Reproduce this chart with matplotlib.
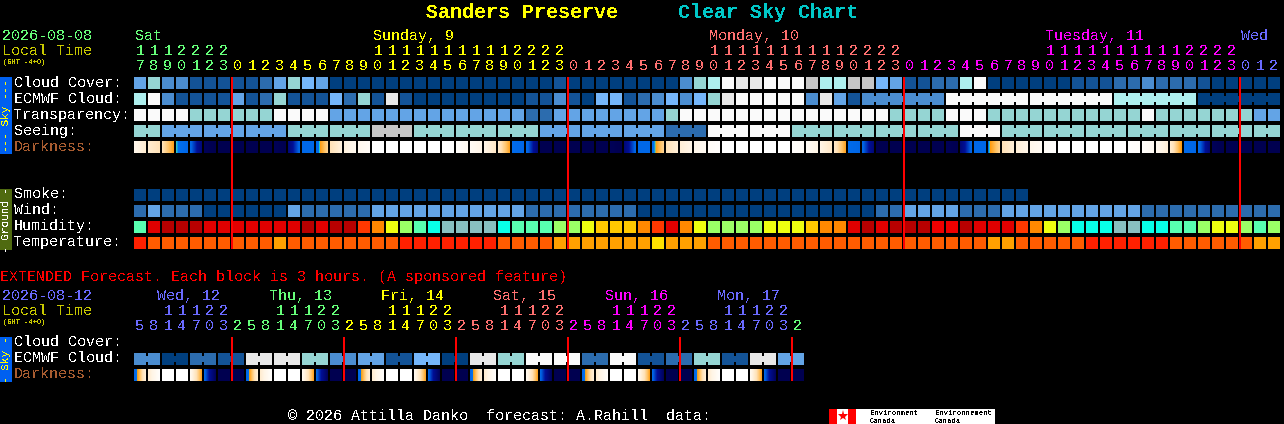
# coding: UTF-8
"""
Clear sky chart for Sanders Preserve, drawn on a pixel sized axes.
"""
import matplotlib
matplotlib.use('Agg')
import matplotlib.pyplot as plt
from matplotlib.colors import LinearSegmentedColormap
import numpy as np

CLOUD_COLORS = ['#003f7f', '#135397', '#2c6cae', '#4b8dd0', '#63a4e6', '#75b6fa',
                '#95d5d3', '#aeefee', '#fafafa', '#e8e8e8', '#c6c6c6']

cloud_cover = [4, 6, 3, 3, 1, 1, 1, 1, 1, 2, 4, 6, 5, 4, 0, 0, 0, 0, 0, 0, 0,
               0, 0, 0, 0, 0, 0, 0, 0, 0, 1, 0, 0, 0, 0, 0, 0, 0, 0, 3, 6,
               7, 8, 9, 9, 8, 8, 8, 10, 7, 7, 10,
               10, 5, 4, 1, 1, 2, 2, 7, 8, 0, 0, 0, 0, 0, 0, 1, 1, 1, 2, 2,
               3, 2, 2, 2, 1, 0, 0, 0, 0, 0]
ecmwf_cloud = [7, 8, 3, 1, 1, 1, 1, 4, 1, 2, 6, 1, 1, 1, 5, 2, 6, 1, 9, 1, 0,
               0, 0, 0, 0, 0, 0, 0, 1, 1, 3, 1, 0, 5, 5, 1, 2, 3, 5, 3, 5,
               6, 9, 8, 8, 8, 8, 8, 3, 9, 4, 1,
               3, 3, 3, 3, 3, 3, 8, 8, 8, 8, 8, 8, 8, 8, 8, 8, 8, 8, 7, 7,
               7, 7, 7, 7, 0, 0, 0, 0, 0, 0]
ecmwf_groups = [52, 58, 64, 70, 76]
transparency = [8, 8, 8, 8, 6, 6, 6, 6, 6, 6, 8, 8, 8, 8, 4, 4, 4, 4, 4, 4, 4,
                4, 4, 4, 4, 4, 4, 4, 2, 2, 4, 4, 4, 4, 4, 4, 4, 4, 6, 8, 8,
                8, 8, 8, 8, 8, 8, 8, 8, 8, 8, 8,
                8, 8, 6, 6, 6, 6, 8, 8, 8, 6, 6, 6, 6, 6, 6, 6, 6, 6, 6, 6,
                8, 6, 6, 6, 6, 6, 6, 6, 4, 4]
seeing = [6, 6, 4, 4, 4, 4, 4, 4, 4, 4, 4, 6, 6, 6, 6, 6, 6, 10, 10, 10, 6,
          6, 6, 6, 6, 6, 6, 6, 6, 4, 4, 4, 4, 4, 4, 4, 4, 4, 2, 2, 2,
          8, 8, 8, 8, 8, 8, 6, 6, 6, 6, 6,
          6, 6, 6, 6, 6, 6, 6, 8, 8, 8, 6, 6, 6, 6, 6, 6, 6, 6, 6, 6,
          6, 6, 6, 6, 6, 6, 6, 6, 6, 6]
seeing_groups = [0, 2, 5, 8, 11, 14, 17, 20, 23, 26, 29, 32, 35, 38, 41, 44, 47,
                 50, 53, 56, 59, 62, 65, 68, 71, 74, 77, 80]
smoke = [0] * 64
wind = [2, 4, 2, 2, 2, 0, 0, 0, 0, 0, 0, 4, 2, 2, 2, 2, 2, 4, 4, 4, 4,
        4, 4, 4, 4, 4, 4, 4, 2, 2, 2, 2, 2, 2, 2, 2, 0, 0, 0, 0, 0,
        0, 0, 0, 0, 0, 0, 0, 0, 0, 0, 0,
        0, 2, 2, 4, 4, 4, 4, 2, 2, 2, 4, 4, 4, 4, 4, 4, 4, 4, 4, 4,
        2, 2, 2, 2, 2, 2, 2, 2, 2, 2]

HUMIDITY_COLORS = {'d': '#b80000', 'r': '#e00000', 'R': '#f00000', 'o': '#ff3800',
                   'O': '#ff8800', 'a': '#ffc800', 'y': '#eeff10', 'l': '#9bff66',
                   'm': '#58ffb0', 'c': '#08ffe8', 'g': '#88bfc0'}
humidity = list('mrdddrrrrrrrdrddoOylmc' 'ggggcmmmllyaaaOorOyllllyyyaOOr'
                'drdddRRdrrroOylcccggccmmlyylml')

TEMP_COLORS = {'r': '#ff2000', 'o': '#ff5c00', 'a': '#ffa000', 'y': '#ffe000'}
temperature = list('r' + 'ooooooooo' + 'a' + 'oooooooo' + 'rrr' + 'rrrr' + 'oooo' +
                   'aaaaaaa' + 'y' + 'aaa' + 'ooooooooooo' + 'ooooooooo' + 'aa' +
                   'ooooo' + 'rrrrrr' + 'oooooo' + 'aa')

# darkness at the left and right edge of each hour block, 0 is daylight, 1 is full dark
dark_left = [.12, .22, .30, .505, .60, .97, 1, 1, 1, 1, .97, .85, .58, .56, .30, .18, .10,
             0, 0, 0, 0, 0, 0, .02, .06, .14, .25, .56, .58, 1, 1, 1, 1, 1, .97, .85, .58,
             .55, .30, .20, .12, .05, 0, 0, 0, 0, 0, .02, .06, .15, .25, .56, .60, 1, 1,
             1, 1, 1, .97, .85, .58, .52, .30, .20, .12, .05, 0, 0, 0, 0, 0, .01, .03,
             .10, .22, .57, .58, .97, 1, 1, 1, 1]
dark_right = [.22, .30, .48, .60, .85, 1, 1, 1, 1, 1, 1, .60, .58, .35, .18, .10, .05,
              0, 0, 0, 0, 0, 0, .08, .14, .25, .47, .60, .85, 1, 1, 1, 1, 1, 1, .60, .58,
              .35, .20, .14, .08, .02, 0, 0, 0, 0, 0, .05, .15, .25, .47, .60, .85, 1, 1,
              1, 1, 1, 1, .60, .58, .35, .20, .14, .07, .02, 0, 0, 0, 0, 0, .03, .08,
              .20, .49, .60, .85, 1, 1, 1, 1, 1]

hours = [17, 18, 19, 20, 21, 22, 23] + list(range(24)) * 3 + [0, 1, 2]
hour_days = [0] * 7 + [1] * 24 + [2] * 24 + [3] * 24 + [4] * 3
day_colors = ['#66ff7a', '#ffff00', '#ff7070', '#ff00ff', '#6a6aff']
day_labels = [('Sat', 0), ('Sunday, 9', 17), ('Monday, 10', 41), ('Tuesday, 11', 65), ('Wed', 79)]

# extended forecast, one block is 3 hours
ext_ecmwf = [3, 3, 0, 0, 2, 2, 1, 1, 9, 9, 9, 9, 6, 6, 3, 3, 4, 4, 1, 1, 5, 5, 0, 0,
             9, 9, 6, 6, 8, 8, 8, 8, 2, 2, 8, 8, 1, 1, 2, 2, 6, 6, 1, 1, 9, 9, 4, 4]
ext_groups = list(range(0, 48, 2))
ext_dark_left = [.60, .22, 0, 0, .10, .60, 1, 1] * 6
ext_dark_right = [.20, .02, 0, 0, .47, .95, 1, 1] * 6
ext_hours = [5, 8, 11, 14, 17, 20, 23, 2, 5, 8, 11, 14, 17, 20, 23, 2, 5, 8, 11, 14, 17, 20, 23, 2,
             5, 8, 11, 14, 17, 20, 23, 2, 5, 8, 11, 14, 17, 20, 23, 2, 5, 8, 11, 14, 17, 20, 23, 2]
ext_hour_days = [0] * 7 + [1] * 8 + [2] * 8 + [3] * 8 + [4] * 8 + [5] * 8 + [6]
ext_day_colors = ['#6a6aff', '#66ff7a', '#ffff00', '#ff7070', '#ff00ff', '#6a6aff', '#66ff7a']
ext_day_labels = [('Wed, 12', 157), ('Thu, 13', 269), ('Fri, 14', 381),
                  ('Sat, 15', 493), ('Sun, 16', 605), ('Mon, 17', 717)]

dark_cmap = LinearSegmentedColormap.from_list('darkness', [
    (0.0, '#ffffff'), (.15, '#fff5e6'), (.30, '#ffe2b8'), (.40, '#ffc468'), (.49, '#ff9c10'),
    (.50, '#30e0c0'), (.52, '#0070f0'), (.62, '#0064e4'), (.75, '#000f96'), (1.0, '#000050')], N=512)

X0 = 134
PITCH = 14
CELL = 12

plt.rcParams['font.family'] = 'Liberation Mono'
plt.rcParams['text.antialiased'] = False
plt.rcParams['font.size'] = 10.8

fig = plt.figure(figsize=(12.84, 4.24), dpi=100, facecolor='black')
ax = fig.add_axes([0, 0, 1, 1])
ax.set_facecolor('black')
ax.axis('off')


def draw_cells(y, values, colors, groups=None):
    xs = X0 + PITCH * np.arange(len(values))
    cols = [colors[v] for v in values]
    ax.bar(xs, CELL, bottom=y, width=CELL, align='edge', color=cols, linewidth=0, antialiased=False)
    if groups is None:
        return
    # blocks of one forecast run are joined by a small bridge
    for i in range(len(values) - 1):
        if i + 1 not in groups and i + 1 >= groups[0]:
            ax.bar(xs[i] + CELL, 6, bottom=y + 3, width=PITCH - CELL, align='edge', color=cols[i],
                   linewidth=0, antialiased=False)


def draw_darkness(y, left, right):
    for i, (a, b) in enumerate(zip(left, right)):
        x = X0 + PITCH * i
        ax.imshow(np.linspace(a, b, CELL).reshape(1, -1), extent=(x, x + CELL, y + CELL, y), cmap=dark_cmap,
                  vmin=0, vmax=1, aspect='auto', interpolation='nearest')


def draw_side(y0, y1, color, text, text_color):
    ax.bar(0, y1 - y0, bottom=y0, width=12, align='edge', color=color, linewidth=0, antialiased=False)
    ax.text(6, (y0 + y1) / 2, text, color=text_color, rotation=90, fontsize=8, ha='center', va='center')


def label(x, y, s, color='white', **kw):
    ax.text(x, y, s, color=color, ha=kw.pop('ha', 'left'), va='baseline', **kw)


# titles
label(426, 18, 'Sanders Preserve', '#ffff00', fontsize=14.4, fontweight='bold')
label(678, 18, 'Clear Sky Chart', '#00c8c8', fontsize=14.4, fontweight='bold')

# header of the main chart
label(2, 40, '2026-08-08', '#66ff7a')
label(2, 55, 'Local Time', '#c8c800')
label(3, 64, '(GMT -4+0)', '#c8c800', fontsize=5)
for text, cell in day_labels:
    x = X0 + PITCH * cell + 1
    label(x, 40, text, day_colors[[d[0] for d in day_labels].index(text)])
for i, (h, d) in enumerate(zip(hours, hour_days)):
    cx = X0 + PITCH * i + CELL / 2
    if h >= 10:
        label(cx, 55, str(h // 10), day_colors[d], ha='center')
    label(cx, 70, str(h % 10), day_colors[d], ha='center')

# sky rows
sky_rows = ['Cloud Cover:', 'ECMWF Cloud:', 'Transparency:', 'Seeing:', 'Darkness:']
for k, name in enumerate(sky_rows):
    label(14, 87 + 16 * k, name, '#a85c30' if name == 'Darkness:' else 'white')
draw_cells(77, cloud_cover, CLOUD_COLORS)
draw_cells(93, ecmwf_cloud, CLOUD_COLORS, ecmwf_groups)
draw_cells(109, transparency, CLOUD_COLORS)
draw_cells(125, seeing, CLOUD_COLORS, seeing_groups)
draw_darkness(141, dark_left, dark_right)
draw_side(77, 154, '#0060f0', '--- Sky ---', '#ffff00')

# ground rows
ground_rows = ['Smoke:', 'Wind:', 'Humidity:', 'Temperature:']
for k, name in enumerate(ground_rows):
    label(14, 198 + 16 * k, name)
draw_cells(189, smoke, CLOUD_COLORS)
draw_cells(205, wind, CLOUD_COLORS)
draw_cells(221, humidity, HUMIDITY_COLORS)
draw_cells(237, temperature, TEMP_COLORS)
draw_side(189, 250, '#4f6a10', '- Ground -', 'white')

for x in [232, 568, 904, 1240]:
    ax.bar(x - 1, 172, bottom=77, width=2, align='edge', color='#ff0000', linewidth=0, antialiased=False)

# extended forecast
label(0, 281, 'EXTENDED Forecast. Each block is 3 hours. (A sponsored feature)', '#ff0000')
label(2, 300, '2026-08-12', '#6a6aff')
label(2, 315, 'Local Time', '#c8c800')
label(3, 324, '(GMT -4+0)', '#c8c800', fontsize=5)
for k, (text, x) in enumerate(ext_day_labels):
    label(x, 300, text, ext_day_colors[k])
for i, (h, d) in enumerate(zip(ext_hours, ext_hour_days)):
    cx = X0 + PITCH * i + CELL / 2
    if h >= 10:
        label(cx, 315, str(h // 10), ext_day_colors[d], ha='center')
    label(cx, 330, str(h % 10), ext_day_colors[d], ha='center')

for k, name in enumerate(['Cloud Cover:', 'ECMWF Cloud:', 'Darkness:']):
    label(14, 346 + 16 * k, name, '#a85c30' if name == 'Darkness:' else 'white')
draw_cells(353, ext_ecmwf, CLOUD_COLORS, ext_groups)
draw_darkness(369, ext_dark_left, ext_dark_right)
draw_side(337, 382, '#0060f0', '- Sky -', '#ffff00')
for k in range(6):
    ax.bar(232 + 112 * k - 1, 44, bottom=337, width=2, align='edge', color='#ff0000', linewidth=0,
           antialiased=False)

# footer
label(288, 420, '© 2026 Attilla Danko  forecast: A.Rahill  data:')
ax.bar(829, 15, bottom=409, width=166, align='edge', color='white', linewidth=0, antialiased=False)
ax.bar(829, 15, bottom=409, width=8, align='edge', color='#ff0000', linewidth=0, antialiased=False)
ax.bar(848, 15, bottom=409, width=8, align='edge', color='#ff0000', linewidth=0, antialiased=False)
ax.plot([842.5], [416], marker='*', markersize=8, color='#ff0000', markeredgewidth=0)
for x, t1 in [(870, 'Environment'), (935, 'Environnement')]:
    label(x, 415, t1, 'black', fontsize=5.2)
    label(x, 423, 'Canada', 'black', fontsize=5.2)

ax.set_xlim(0, 1284)
ax.set_ylim(424, 0)
fig.savefig('out.png', dpi=100, facecolor='black')
